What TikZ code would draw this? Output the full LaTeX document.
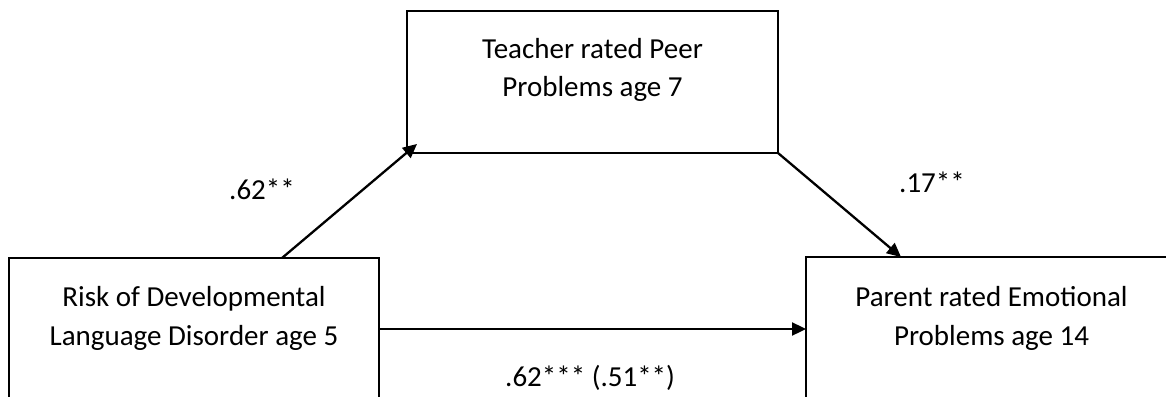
\documentclass[tikz,border=0pt]{standalone}
\usepackage{fontspec}
\setmainfont{Carlito}
\usetikzlibrary{arrows.meta}
\begin{document}
\begin{tikzpicture}[x=1pt,y=-1pt,
  box/.style={draw=black,line width=2.3pt,rectangle,inner sep=0pt,outer sep=0pt},
  txt/.style={font=\fontsize{29}{38.3}\selectfont,align=center,inner sep=0pt,anchor=base},
  lbl/.style={font=\fontsize{29}{38.3}\selectfont,inner sep=0pt,anchor=base west},
  conn/.style={line width=2.3pt,-{Triangle[length=14pt,width=13pt]}}]
\useasboundingbox (0,0) rectangle (1166,396);
\clip (0,0) rectangle (1166,396);
\node[box,minimum width=371pt,minimum height=142pt] (tbox) at (592.5,82) {};
\node[box,minimum width=370pt,minimum height=142pt] (lbox) at (194,329) {};
\node[box,minimum width=371pt,minimum height=143pt] (rbox) at (991.5,328.5) {};
\node[txt] (ttxt) at (592.5,96.7) {Teacher rated Peer\\Problems age 7};
\node[txt] (ltxt) at (194,345) {Risk of Developmental\\Language Disorder age 5};
\node[txt] (rtxt) at (991.5,345) {Parent rated Emotional\\Problems age 14};
\draw[conn] ([xshift=273pt]lbox.north west) -- ([xshift=10pt,yshift=9pt]tbox.south west);
\draw[conn] (tbox.south east) -- ([xshift=95pt]rbox.north west);
\draw[conn] (lbox.east) -- (lbox.east -| rbox.west);
\node[lbl] (l1) at (229,199) {.62**};
\node[lbl] (l2) at (899,192) {.17**};
\node[lbl] (l3) at (505,386) {.62*** (.51**)};
\end{tikzpicture}
\end{document}
